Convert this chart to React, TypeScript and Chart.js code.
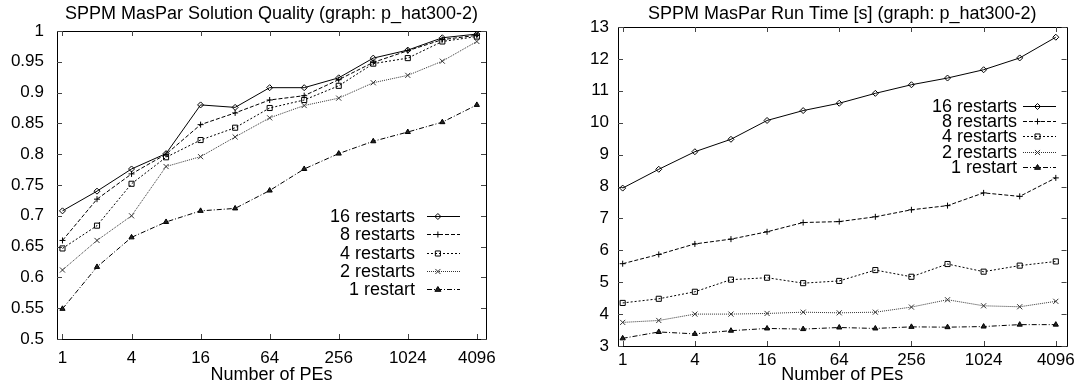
import React, { useEffect, useRef } from 'react';
import { Chart, registerables } from 'chart.js';

Chart.register(...registerables);

// ---------- data ----------
const PES = [1, 2, 4, 8, 16, 32, 64, 128, 256, 512, 1024, 2048, 4096];
const X_TICKS = [1, 4, 16, 64, 256, 1024, 4096];
const SERIES_NAMES = ['16 restarts', '8 restarts', '4 restarts', '2 restarts', '1 restart'];

const QUALITY_TITLE = 'SPPM MasPar Solution Quality (graph: p_hat300-2)';
const TIME_TITLE = 'SPPM MasPar Run Time [s] (graph: p_hat300-2)';
const X_TITLE = 'Number of PEs';

const quality16 = [0.708, 0.740, 0.776, 0.801, 0.880, 0.876, 0.908, 0.908, 0.924, 0.956, 0.969, 0.989, 0.995];
const quality8 = [0.660, 0.727, 0.768, 0.800, 0.848, 0.867, 0.888, 0.895, 0.921, 0.949, 0.968, 0.986, 0.993];
const quality4 = [0.647, 0.684, 0.752, 0.795, 0.823, 0.843, 0.875, 0.888, 0.911, 0.947, 0.956, 0.983, 0.991];
const quality2 = [0.612, 0.660, 0.700, 0.780, 0.796, 0.828, 0.859, 0.879, 0.891, 0.916, 0.928, 0.951, 0.983];
const quality1 = [0.549, 0.617, 0.665, 0.690, 0.708, 0.712, 0.741, 0.776, 0.801, 0.821, 0.836, 0.852, 0.880];

const time16 = [7.95, 8.54, 9.09, 9.48, 10.07, 10.38, 10.61, 10.92, 11.19, 11.40, 11.66, 12.03, 12.68];
const time8 = [5.58, 5.87, 6.20, 6.35, 6.58, 6.87, 6.90, 7.05, 7.27, 7.40, 7.80, 7.69, 8.27];
const time4 = [4.35, 4.48, 4.70, 5.08, 5.14, 4.97, 5.04, 5.38, 5.17, 5.57, 5.33, 5.52, 5.65];
const time2 = [3.74, 3.80, 4.00, 4.00, 4.02, 4.06, 4.04, 4.06, 4.22, 4.45, 4.26, 4.23, 4.40];
const time1 = [3.24, 3.44, 3.38, 3.48, 3.55, 3.53, 3.58, 3.55, 3.60, 3.59, 3.61, 3.67, 3.67];

const QUALITY_SERIES = [quality16, quality8, quality4, quality2, quality1];
const TIME_SERIES = [time16, time8, time4, time2, time1];

// ---------- styles ----------
const FONT = '"Liberation Sans", Arial, Helvetica, sans-serif';
const STYLES = [
  { color: '#000', dash: [] as number[], point: 'rectRot', r: 3, fill: 'rgba(0,0,0,0)' },
  { color: '#000', dash: [4, 2], point: 'cross', r: 3, fill: 'rgba(0,0,0,0)' },
  { color: '#000', dash: [2, 2], point: 'rect', r: 3.6, fill: 'rgba(0,0,0,0)' },
  { color: '#333', dash: [1, 1], point: 'crossRot', r: 3.6, fill: 'rgba(0,0,0,0)' },
  { color: '#000', dash: [5, 2, 1, 2], point: 'triangle', r: 3, fill: '#222' },
];

function drawMarker(ctx: CanvasRenderingContext2D, style: string, x: number, y: number, r: number, fill: string, color: string) {
  ctx.save();
  ctx.setLineDash([]);
  ctx.strokeStyle = color;
  ctx.fillStyle = fill;
  ctx.lineWidth = 1;
  ctx.beginPath();
  if (style === 'rectRot') {
    ctx.moveTo(x, y - r); ctx.lineTo(x + r, y); ctx.lineTo(x, y + r); ctx.lineTo(x - r, y); ctx.closePath();
    ctx.fill(); ctx.stroke();
  } else if (style === 'cross') {
    ctx.moveTo(x - r, y); ctx.lineTo(x + r, y); ctx.moveTo(x, y - r); ctx.lineTo(x, y + r); ctx.stroke();
  } else if (style === 'rect') {
    const s = Math.SQRT1_2 * r;
    ctx.rect(x - s, y - s, 2 * s, 2 * s); ctx.fill(); ctx.stroke();
  } else if (style === 'crossRot') {
    const s = Math.SQRT1_2 * r;
    ctx.moveTo(x - s, y - s); ctx.lineTo(x + s, y + s); ctx.moveTo(x + s, y - s); ctx.lineTo(x - s, y + s); ctx.stroke();
  } else if (style === 'triangle') {
    ctx.moveTo(x, y - r); ctx.lineTo(x + r, y + r * 0.6); ctx.lineTo(x - r, y + r * 0.6); ctx.closePath();
    ctx.fill(); ctx.stroke();
  }
  ctx.restore();
}

type PanelSpec = {
  canvasLeft: number; canvasWidth: number; canvasHeight: number;
  plotLeft: number; plotRight: number; plotTop: number; plotBottom: number;
  xMin: number; xMax: number; yMin: number; yMax: number; yStep: number;
  yPad: number; xPad: number;
  title: string; series: number[][];
  legendTextRight: number; legendLineLeft: number; legendLineRight: number; legendMarkerAt: number;
  legendTop: number; legendStep: number;
};

const LEFT_PANEL: PanelSpec = {
  canvasLeft: 0, canvasWidth: 540, canvasHeight: 389,
  plotLeft: 57, plotRight: 486, plotTop: 31, plotBottom: 339,
  xMin: 0.896, xMax: 4922, yMin: 0.5, yMax: 1, yStep: 0.05,
  yPad: 13, xPad: 9,
  title: QUALITY_TITLE, series: QUALITY_SERIES,
  legendTextRight: 415, legendLineLeft: 427, legendLineRight: 460, legendMarkerAt: 0.33,
  legendTop: 216, legendStep: 18.3,
};

const RIGHT_PANEL: PanelSpec = {
  canvasLeft: 540, canvasWidth: 539, canvasHeight: 389,
  plotLeft: 78, plotRight: 527, plotTop: 27, plotBottom: 346,
  xMin: 0.914, xMax: 5035, yMin: 3, yMax: 13, yStep: 1,
  yPad: 9, xPad: 4,
  title: TIME_TITLE, series: TIME_SERIES,
  legendTextRight: 477, legendLineLeft: 483, legendLineRight: 516, legendMarkerAt: 0.44,
  legendTop: 106, legendStep: 15.2,
};

function Panel({ spec }: { spec: PanelSpec }) {
  const ref = useRef<HTMLCanvasElement | null>(null);
  useEffect(() => {
    const canvas = ref.current;
    if (!canvas) return;
    const s = spec;
    const tickLen = 5;

    const framePlugin = {
      id: 'frame',
      beforeDatasetsDraw(chart: any) {
        const { ctx, chartArea: a } = chart;
        const xs = chart.scales.x;
        const ys = chart.scales.y;
        ctx.save();
        ctx.strokeStyle = '#000';
        ctx.lineWidth = 1;
        ctx.setLineDash([]);
        ctx.beginPath();
        ctx.rect(Math.round(a.left) + 0.5, Math.round(a.top) + 0.5, Math.round(a.right - a.left), Math.round(a.bottom - a.top));
        ctx.stroke();
        ctx.strokeStyle = '#444';
        ctx.beginPath();
        for (const t of xs.ticks) {
          const px = Math.round(xs.getPixelForValue(t.value)) + 0.5;
          ctx.moveTo(px, a.bottom); ctx.lineTo(px, a.bottom - tickLen);
          ctx.moveTo(px, a.top); ctx.lineTo(px, a.top + tickLen);
        }
        for (const t of ys.ticks) {
          const py = Math.round(ys.getPixelForValue(t.value)) + 0.5;
          ctx.moveTo(a.left, py); ctx.lineTo(a.left + tickLen, py);
          ctx.moveTo(a.right, py); ctx.lineTo(a.right - tickLen, py);
        }
        ctx.stroke();
        ctx.restore();
      },
      afterDraw(chart: any) {
        const { ctx, chartArea: a } = chart;
        ctx.save();
        ctx.fillStyle = '#000';
        ctx.font = `18px ${FONT}`;
        ctx.textAlign = 'center';
        ctx.textBaseline = 'middle';
        ctx.fillText(s.title, (a.left + a.right) / 2, 14);
        chart.data.datasets.forEach((ds: any, i: number) => {
          const st = STYLES[i];
          const y = s.legendTop + i * s.legendStep;
          const yl = Math.round(y) + 0.5;
          ctx.fillStyle = '#000';
          ctx.textAlign = 'right';
          ctx.textBaseline = 'middle';
          ctx.font = `18px ${FONT}`;
          ctx.fillText(ds.label, s.legendTextRight, y + 1);
          ctx.strokeStyle = st.color;
          ctx.lineWidth = 1;
          ctx.setLineDash(st.dash);
          ctx.beginPath();
          ctx.moveTo(s.legendLineLeft, yl);
          ctx.lineTo(s.legendLineRight, yl);
          ctx.stroke();
          const mx = s.legendLineLeft + (s.legendLineRight - s.legendLineLeft) * s.legendMarkerAt;
          drawMarker(ctx, st.point, mx, yl, st.r, st.fill, st.color);
        });
        ctx.restore();
      },
    };

    const datasets = s.series.map((vals, i) => ({
      label: SERIES_NAMES[i],
      data: PES.map((x, j) => ({ x, y: vals[j] })),
      borderColor: STYLES[i].color,
      backgroundColor: STYLES[i].fill,
      borderWidth: 1,
      borderDash: STYLES[i].dash,
      pointStyle: STYLES[i].point,
      pointRadius: STYLES[i].r,
      pointBorderWidth: 1,
      pointBorderColor: STYLES[i].color,
      pointBackgroundColor: STYLES[i].fill,
      tension: 0,
      fill: false,
    }));

    const chart = new Chart(canvas, {
      type: 'line',
      data: { datasets },
      plugins: [framePlugin],
      options: {
        responsive: false,
        animation: false,
        devicePixelRatio: 1,
        layout: {
          padding: { left: 0, right: s.canvasWidth - s.plotRight, top: s.plotTop, bottom: 0 },
        },
        plugins: { legend: { display: false }, title: { display: false }, tooltip: { enabled: false } },
        scales: {
          x: {
            type: 'logarithmic',
            min: s.xMin,
            max: s.xMax,
            afterBuildTicks: (scale: any) => { scale.ticks = X_TICKS.map((v) => ({ value: v })); },
            afterFit: (scale: any) => { scale.height = s.canvasHeight - s.plotBottom; },
            grid: { display: false, drawTicks: false },
            border: { display: false },
            ticks: {
              autoSkip: false, maxRotation: 0, minRotation: 0, padding: s.xPad,
              color: '#000', font: { family: FONT, size: 17 },
              callback: (v: any) => String(v),
            },
            title: {
              display: true, text: X_TITLE, color: '#000',
              font: { family: FONT, size: 18 }, padding: { top: 0, bottom: 3 },
            },
          },
          y: {
            type: 'linear',
            min: s.yMin,
            max: s.yMax,
            afterFit: (scale: any) => { scale.width = s.plotLeft; },
            grid: { display: false, drawTicks: false },
            border: { display: false },
            ticks: {
              stepSize: s.yStep, padding: s.yPad, color: '#000',
              font: { family: FONT, size: 17 },
              callback: (v: any) => String(Math.round(Number(v) * 100) / 100),
            },
          },
        },
      } as any,
    });
    return () => chart.destroy();
  }, [spec]);

  return (
    <canvas
      ref={ref}
      width={spec.canvasWidth}
      height={spec.canvasHeight}
      style={{ position: 'absolute', left: spec.canvasLeft, top: 0, width: spec.canvasWidth, height: spec.canvasHeight }}
    />
  );
}

export default function App() {
  return (
    <div style={{ position: 'absolute', left: 0, top: 0, width: 1079, height: 389, background: '#fff', overflow: 'hidden' }}>
      <Panel spec={LEFT_PANEL} />
      <Panel spec={RIGHT_PANEL} />
    </div>
  );
}
